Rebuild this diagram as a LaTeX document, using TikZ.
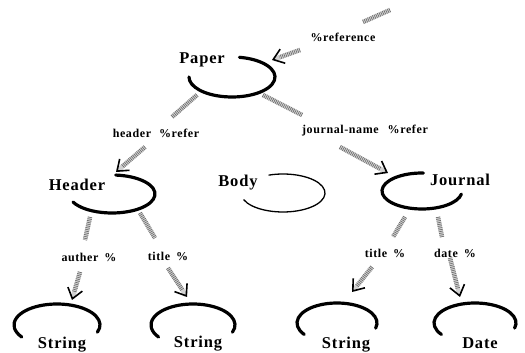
\documentclass[tikz,border=0pt]{standalone}
\usepackage{fontspec}
\setmainfont{Liberation Serif}
\newfontfamily\nodefont[LetterSpace=5]{Liberation Serif}
\newfontfamily\lblfont[LetterSpace=5]{Liberation Serif}
\usetikzlibrary{arrows.meta}
\tikzset{
  nd/.style={font=\nodefont\bfseries\fontsize{16.5}{16.5}\selectfont, inner sep=0pt},
  lbl/.style={font=\lblfont\bfseries\fontsize{12}{12}\selectfont, inner sep=0pt},
  thickarc/.style={line width=3.2pt, line cap=round},
  thinarc/.style={line width=1.3pt},
  streakbase/.style={line width=4.5pt, draw=gray!35},
  streak/.style={streakbase, postaction={draw=black!60, dash pattern=on 0.6pt off 1.2pt}},
  arrowstreak/.style={streakbase, -{Straight Barb[black, line width=1.6pt, length=10pt, width=15pt]},
    postaction={-, draw=black!60, dash pattern=on 0.6pt off 1.2pt, shorten >=8pt}}
}
\begin{document}
\begin{tikzpicture}[x=1pt,y=1pt]
\useasboundingbox (0,0) rectangle (525,353);
% nodes (text)
\node[nd] (paper) at (202,293) {Paper};
\node[nd] (header) at (77,168) {Header};
\node[nd] (body) at (238,170) {Body};
\node[nd] (journal) at (460,173) {Journal};
\node[nd] (string1) at (62,8) {String};
\node[nd] (string2) at (198,9) {String};
\node[nd] (string3) at (346,8) {String};
\node[nd] (date) at (480,10) {Date};
% labels
\node[lbl] (lref) at (343,316) {\%reference};
\node[lbl] (lhdr) at (156,220) {header\hspace{8pt}\%refer};
\node[lbl] (ljn) at (365,222) {journal-name\hspace{9pt}\%refer};
\node[lbl] (lauth) at (89,96) {auther\hspace{6pt}\%};
\node[lbl] (ltitle1) at (168,97) {title\hspace{6pt}\%};
\node[lbl] (ltitle2) at (385,100) {title\hspace{6pt}\%};
\node[lbl] (ldate) at (455,100) {date\hspace{6pt}\%};
% arcs
\draw[thickarc] (232,276) ++(80:43pt and 20pt) arc[start angle=80, end angle=-180, x radius=43pt, y radius=20pt];
\draw[thickarc] (112,159) ++(85:43pt and 19pt) arc[start angle=85, end angle=-155, x radius=43pt, y radius=19pt];
\draw[thickarc] (422,162) ++(88:40pt and 18pt) arc[start angle=88, end angle=350, x radius=40pt, y radius=18pt];
\draw[thinarc] (283,160) ++(110:42pt and 19pt) arc[start angle=110, end angle=-160, x radius=42pt, y radius=19pt];
\draw[thickarc] (57,28) ++(-20:43pt and 21pt) arc[start angle=-20, end angle=215, x radius=43pt, y radius=21pt];
\draw[thickarc] (193,28) ++(-20:42pt and 21pt) arc[start angle=-20, end angle=215, x radius=42pt, y radius=21pt];
\draw[thickarc] (337,30) ++(-15:40pt and 20pt) arc[start angle=-15, end angle=215, x radius=40pt, y radius=20pt];
\draw[thickarc] (475,30) ++(-15:41pt and 20pt) arc[start angle=-15, end angle=215, x radius=41pt, y radius=20pt];
% connector end points
\coordinate (topA) at (390,343);
\coordinate (topB) at (363,331);
\coordinate (refA) at (300,303);
\coordinate (paperIn) at (272,293);
\coordinate (paperOutL) at (197,258);
\coordinate (hdrLblTop) at (172,236);
\coordinate (hdrLblBot) at (145,206);
\coordinate (headerIn) at (116,181);
\coordinate (paperOutR) at (263,258);
\coordinate (jnLblTop) at (302,238);
\coordinate (jnLblBot) at (340,206);
\coordinate (journalIn) at (388,180);
\coordinate (hdrOutL) at (90,136);
\coordinate (authTop) at (85,113);
\coordinate (hdrOutR) at (140,140);
\coordinate (title1Top) at (155,115);
\coordinate (authBot) at (80,81);
\coordinate (string1In) at (72,53);
\coordinate (title1Bot) at (168,85);
\coordinate (string2In) at (187,56);
\coordinate (jOutL) at (405,136);
\coordinate (title2Top) at (393,116);
\coordinate (jOutR) at (438,136);
\coordinate (dateTop) at (442,116);
\coordinate (title2Bot) at (372,86);
\coordinate (string3In) at (352,61);
\coordinate (dateBot) at (450,95);
\coordinate (dateIn) at (460,56);
% connectors
\draw[streak] (topA) -- (topB);
\draw[arrowstreak] (refA) -- (paperIn);
\draw[streak] (paperOutL) -- (hdrLblTop);
\draw[arrowstreak] (hdrLblBot) -- (headerIn);
\draw[streak] (paperOutR) -- (jnLblTop);
\draw[arrowstreak] (jnLblBot) -- (journalIn);
\draw[streak] (hdrOutL) -- (authTop);
\draw[streak] (hdrOutR) -- (title1Top);
\draw[arrowstreak] (authBot) -- (string1In);
\draw[arrowstreak] (title1Bot) -- (string2In);
\draw[streak] (jOutL) -- (title2Top);
\draw[streak] (jOutR) -- (dateTop);
\draw[arrowstreak] (title2Bot) -- (string3In);
\draw[arrowstreak] (dateBot) -- (dateIn);
\end{tikzpicture}
\end{document}
